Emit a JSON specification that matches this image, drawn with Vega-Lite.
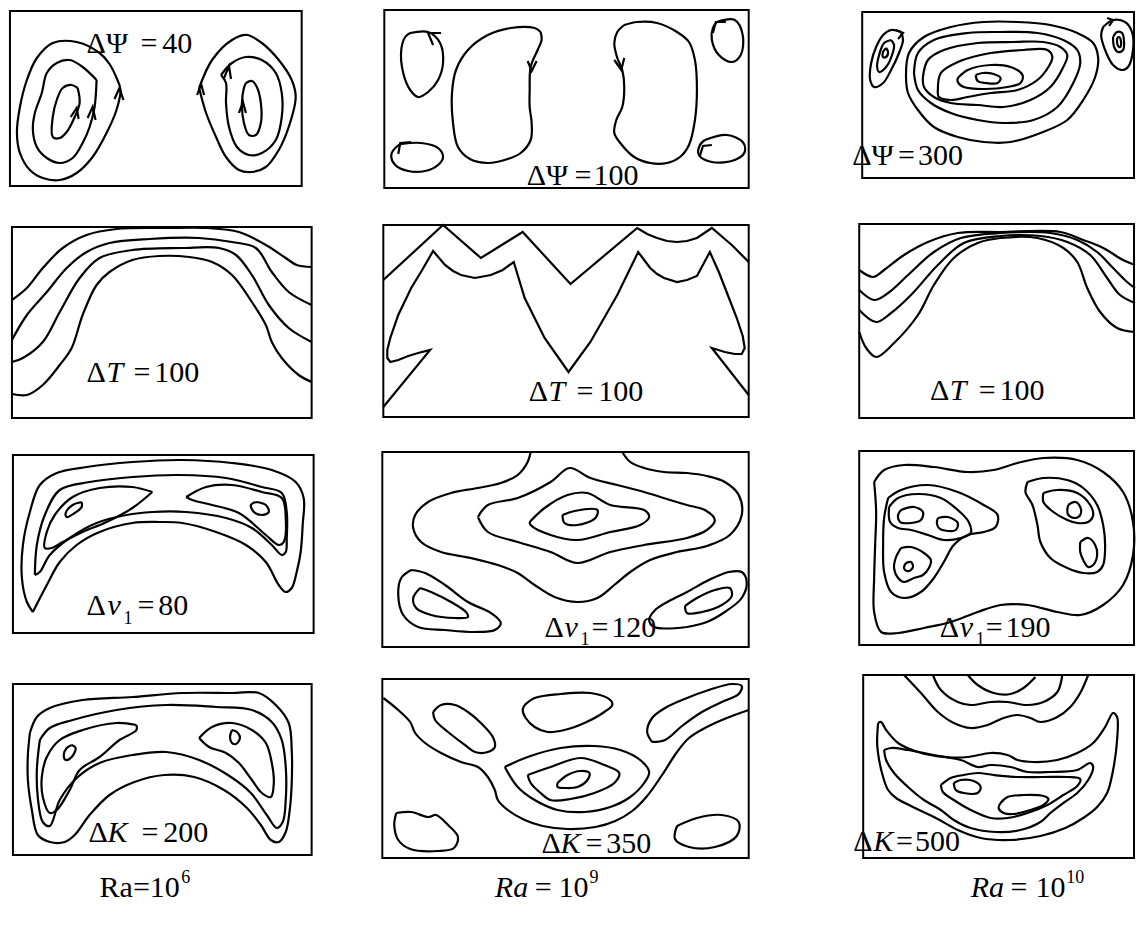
{
  "$schema": "https://vega.github.io/schema/vega-lite/v6.json",
  "width": 1140,
  "height": 930,
  "padding": 0,
  "autosize": {"type": "fit", "contains": "padding"},
  "config": {"view": {"stroke": null}, "background": "white"},
  "datasets": {
    "boxes": [
      {"panel": "psi6", "x0": 10, "x1": 303, "y0": 11, "y1": 186},
      {"panel": "psi9", "x0": 386, "x1": 752, "y0": 10, "y1": 188},
      {"panel": "psi10", "x0": 866, "x1": 1139, "y0": 12, "y1": 178},
      {"panel": "t6", "x0": 12, "x1": 313, "y0": 227, "y1": 418},
      {"panel": "t9", "x0": 385, "x1": 752, "y0": 225, "y1": 417},
      {"panel": "t10", "x0": 863, "x1": 1139, "y0": 224, "y1": 418},
      {"panel": "nu6", "x0": 13, "x1": 315, "y0": 455, "y1": 633},
      {"panel": "nu9", "x0": 384, "x1": 752, "y0": 452, "y1": 647},
      {"panel": "nu10", "x0": 863, "x1": 1139, "y0": 451, "y1": 645},
      {"panel": "k6", "x0": 13, "x1": 313, "y0": 684, "y1": 855},
      {"panel": "k9", "x0": 384, "x1": 752, "y0": 679, "y1": 858},
      {"panel": "k10", "x0": 867, "x1": 1139, "y0": 675, "y1": 858}
    ],
    "curves": [
      {"c":"a1","x":118,"y":80},{"c":"a1","x":110,"y":64},{"c":"a1","x":100,"y":53},{"c":"a1","x":77,"y":42},{"c":"a1","x":53,"y":43},{"c":"a1","x":37,"y":58},{"c":"a1","x":27,"y":80},{"c":"a1","x":20,"y":107},{"c":"a1","x":17,"y":133},{"c":"a1","x":20,"y":153},{"c":"a1","x":30,"y":170},{"c":"a1","x":43,"y":178},{"c":"a1","x":60,"y":180},{"c":"a1","x":77,"y":173},{"c":"a1","x":93,"y":157},{"c":"a1","x":107,"y":133},{"c":"a1","x":117,"y":110},{"c":"a1","x":121,"y":90},{"c":"a1","x":118,"y":80},
      {"c":"a2","x":97,"y":80},{"c":"a2","x":83,"y":67},{"c":"a2","x":70,"y":60},{"c":"a2","x":57,"y":63},{"c":"a2","x":47,"y":73},{"c":"a2","x":42,"y":93},{"c":"a2","x":35,"y":113},{"c":"a2","x":33,"y":130},{"c":"a2","x":37,"y":147},{"c":"a2","x":47,"y":158},{"c":"a2","x":60,"y":163},{"c":"a2","x":73,"y":158},{"c":"a2","x":83,"y":143},{"c":"a2","x":90,"y":127},{"c":"a2","x":95,"y":107},{"c":"a2","x":97,"y":80},
      {"c":"a3","x":78,"y":88},{"c":"a3","x":72,"y":85},{"c":"a3","x":63,"y":88},{"c":"a3","x":57,"y":100},{"c":"a3","x":53,"y":117},{"c":"a3","x":53,"y":137},{"c":"a3","x":60,"y":138},{"c":"a3","x":67,"y":132},{"c":"a3","x":75,"y":117},{"c":"a3","x":80,"y":103},{"c":"a3","x":78,"y":88},
      {"c":"a4","x":200,"y":88},{"c":"a4","x":213,"y":60},{"c":"a4","x":233,"y":40},{"c":"a4","x":248,"y":35},{"c":"a4","x":263,"y":43},{"c":"a4","x":280,"y":60},{"c":"a4","x":293,"y":80},{"c":"a4","x":297,"y":97},{"c":"a4","x":290,"y":127},{"c":"a4","x":280,"y":150},{"c":"a4","x":267,"y":167},{"c":"a4","x":253,"y":172},{"c":"a4","x":240,"y":170},{"c":"a4","x":227,"y":157},{"c":"a4","x":217,"y":137},{"c":"a4","x":207,"y":113},{"c":"a4","x":200,"y":88},
      {"c":"a5","x":222,"y":75},{"c":"a5","x":233,"y":63},{"c":"a5","x":247,"y":57},{"c":"a5","x":263,"y":60},{"c":"a5","x":277,"y":73},{"c":"a5","x":283,"y":93},{"c":"a5","x":283,"y":117},{"c":"a5","x":277,"y":140},{"c":"a5","x":263,"y":153},{"c":"a5","x":250,"y":155},{"c":"a5","x":238,"y":147},{"c":"a5","x":230,"y":127},{"c":"a5","x":227,"y":103},{"c":"a5","x":227,"y":83},{"c":"a5","x":222,"y":75},
      {"c":"a6","x":247,"y":83},{"c":"a6","x":253,"y":81},{"c":"a6","x":258,"y":87},{"c":"a6","x":262,"y":103},{"c":"a6","x":262,"y":123},{"c":"a6","x":257,"y":135},{"c":"a6","x":250,"y":135},{"c":"a6","x":245,"y":123},{"c":"a6","x":243,"y":103},{"c":"a6","x":245,"y":88},{"c":"a6","x":247,"y":83},

      {"c":"b1","x":412,"y":33},{"c":"b1","x":430,"y":32},{"c":"b1","x":442,"y":43},{"c":"b1","x":445,"y":63},{"c":"b1","x":440,"y":80},{"c":"b1","x":430,"y":92},{"c":"b1","x":420,"y":97},{"c":"b1","x":412,"y":90},{"c":"b1","x":405,"y":73},{"c":"b1","x":403,"y":50},{"c":"b1","x":407,"y":37},{"c":"b1","x":412,"y":33},
      {"c":"b2","x":403,"y":144},{"c":"b2","x":423,"y":143},{"c":"b2","x":440,"y":148},{"c":"b2","x":445,"y":157},{"c":"b2","x":440,"y":165},{"c":"b2","x":427,"y":171},{"c":"b2","x":410,"y":171},{"c":"b2","x":397,"y":165},{"c":"b2","x":393,"y":155},{"c":"b2","x":398,"y":147},{"c":"b2","x":403,"y":144},
      {"c":"b3","x":543,"y":32},{"c":"b3","x":537,"y":28},{"c":"b3","x":513,"y":28},{"c":"b3","x":490,"y":35},{"c":"b3","x":470,"y":50},{"c":"b3","x":458,"y":70},{"c":"b3","x":454,"y":93},{"c":"b3","x":455,"y":123},{"c":"b3","x":460,"y":147},{"c":"b3","x":472,"y":159},{"c":"b3","x":490,"y":163},{"c":"b3","x":510,"y":159},{"c":"b3","x":523,"y":153},{"c":"b3","x":533,"y":140},{"c":"b3","x":534,"y":123},{"c":"b3","x":532,"y":107},{"c":"b3","x":532,"y":90},{"c":"b3","x":533,"y":67},{"c":"b3","x":540,"y":50},{"c":"b3","x":544,"y":40},{"c":"b3","x":543,"y":32},
      {"c":"b4","x":627,"y":25},{"c":"b4","x":640,"y":22},{"c":"b4","x":660,"y":23},{"c":"b4","x":680,"y":32},{"c":"b4","x":692,"y":42},{"c":"b4","x":698,"y":60},{"c":"b4","x":700,"y":90},{"c":"b4","x":698,"y":120},{"c":"b4","x":692,"y":145},{"c":"b4","x":683,"y":157},{"c":"b4","x":670,"y":163},{"c":"b4","x":653,"y":163},{"c":"b4","x":637,"y":157},{"c":"b4","x":623,"y":143},{"c":"b4","x":617,"y":133},{"c":"b4","x":619,"y":120},{"c":"b4","x":625,"y":107},{"c":"b4","x":627,"y":87},{"c":"b4","x":625,"y":70},{"c":"b4","x":620,"y":58},{"c":"b4","x":617,"y":43},{"c":"b4","x":620,"y":32},{"c":"b4","x":627,"y":25},
      {"c":"b5","x":720,"y":22},{"c":"b5","x":738,"y":20},{"c":"b5","x":746,"y":35},{"c":"b5","x":744,"y":55},{"c":"b5","x":735,"y":62},{"c":"b5","x":722,"y":55},{"c":"b5","x":715,"y":40},{"c":"b5","x":716,"y":28},{"c":"b5","x":720,"y":22},
      {"c":"b6","x":708,"y":140},{"c":"b6","x":730,"y":135},{"c":"b6","x":746,"y":142},{"c":"b6","x":748,"y":152},{"c":"b6","x":738,"y":160},{"c":"b6","x":715,"y":162},{"c":"b6","x":702,"y":155},{"c":"b6","x":703,"y":145},{"c":"b6","x":708,"y":140},

      {"c":"c1","x":905,"y":32},{"c":"c1","x":895,"y":30},{"c":"c1","x":887,"y":35},{"c":"c1","x":880,"y":47},{"c":"c1","x":875,"y":63},{"c":"c1","x":874,"y":80},{"c":"c1","x":878,"y":87},{"c":"c1","x":887,"y":83},{"c":"c1","x":895,"y":70},{"c":"c1","x":903,"y":53},{"c":"c1","x":907,"y":40},{"c":"c1","x":905,"y":32},
      {"c":"c2","x":895,"y":40},{"c":"c2","x":888,"y":43},{"c":"c2","x":883,"y":55},{"c":"c2","x":881,"y":67},{"c":"c2","x":883,"y":72},{"c":"c2","x":890,"y":67},{"c":"c2","x":896,"y":55},{"c":"c2","x":898,"y":45},{"c":"c2","x":895,"y":40},
      {"c":"c3","x":890,"y":48},{"c":"c3","x":887,"y":52},{"c":"c3","x":887,"y":57},{"c":"c3","x":890,"y":57},{"c":"c3","x":892,"y":52},{"c":"c3","x":890,"y":48},
      {"c":"c4","x":910,"y":77},{"c":"c4","x":913,"y":53},{"c":"c4","x":928,"y":37},{"c":"c4","x":955,"y":27},{"c":"c4","x":988,"y":22},{"c":"c4","x":1022,"y":22},{"c":"c4","x":1055,"y":25},{"c":"c4","x":1082,"y":33},{"c":"c4","x":1098,"y":43},{"c":"c4","x":1103,"y":58},{"c":"c4","x":1100,"y":77},{"c":"c4","x":1088,"y":100},{"c":"c4","x":1072,"y":120},{"c":"c4","x":1045,"y":133},{"c":"c4","x":1015,"y":142},{"c":"c4","x":988,"y":142},{"c":"c4","x":962,"y":137},{"c":"c4","x":938,"y":127},{"c":"c4","x":922,"y":110},{"c":"c4","x":912,"y":93},{"c":"c4","x":910,"y":77},
      {"c":"c5","x":918,"y":73},{"c":"c5","x":922,"y":53},{"c":"c5","x":938,"y":40},{"c":"c5","x":972,"y":33},{"c":"c5","x":1005,"y":32},{"c":"c5","x":1042,"y":33},{"c":"c5","x":1068,"y":40},{"c":"c5","x":1082,"y":50},{"c":"c5","x":1085,"y":63},{"c":"c5","x":1078,"y":83},{"c":"c5","x":1062,"y":107},{"c":"c5","x":1038,"y":120},{"c":"c5","x":1008,"y":123},{"c":"c5","x":982,"y":120},{"c":"c5","x":955,"y":113},{"c":"c5","x":935,"y":103},{"c":"c5","x":922,"y":90},{"c":"c5","x":918,"y":73},
      {"c":"c6","x":927,"y":77},{"c":"c6","x":932,"y":60},{"c":"c6","x":948,"y":50},{"c":"c6","x":982,"y":43},{"c":"c6","x":1018,"y":42},{"c":"c6","x":1048,"y":42},{"c":"c6","x":1065,"y":47},{"c":"c6","x":1072,"y":55},{"c":"c6","x":1068,"y":67},{"c":"c6","x":1055,"y":87},{"c":"c6","x":1035,"y":100},{"c":"c6","x":1008,"y":107},{"c":"c6","x":982,"y":105},{"c":"c6","x":955,"y":103},{"c":"c6","x":938,"y":97},{"c":"c6","x":928,"y":87},{"c":"c6","x":927,"y":77},
      {"c":"c7","x":942,"y":90},{"c":"c7","x":945,"y":73},{"c":"c7","x":962,"y":62},{"c":"c7","x":995,"y":53},{"c":"c7","x":1028,"y":50},{"c":"c7","x":1052,"y":50},{"c":"c7","x":1057,"y":57},{"c":"c7","x":1053,"y":67},{"c":"c7","x":1042,"y":80},{"c":"c7","x":1022,"y":90},{"c":"c7","x":995,"y":93},{"c":"c7","x":972,"y":97},{"c":"c7","x":955,"y":100},{"c":"c7","x":943,"y":97},{"c":"c7","x":942,"y":90},
      {"c":"c8","x":962,"y":78},{"c":"c8","x":972,"y":70},{"c":"c8","x":995,"y":65},{"c":"c8","x":1015,"y":67},{"c":"c8","x":1027,"y":75},{"c":"c8","x":1025,"y":83},{"c":"c8","x":1012,"y":87},{"c":"c8","x":988,"y":89},{"c":"c8","x":968,"y":87},{"c":"c8","x":962,"y":82},{"c":"c8","x":962,"y":78},
      {"c":"c9","x":980,"y":75},{"c":"c9","x":987,"y":73},{"c":"c9","x":998,"y":74},{"c":"c9","x":1005,"y":78},{"c":"c9","x":1002,"y":83},{"c":"c9","x":990,"y":83},{"c":"c9","x":982,"y":81},{"c":"c9","x":980,"y":75},
      {"c":"c10","x":1108,"y":27},{"c":"c10","x":1118,"y":20},{"c":"c10","x":1130,"y":22},{"c":"c10","x":1137,"y":32},{"c":"c10","x":1138,"y":50},{"c":"c10","x":1133,"y":67},{"c":"c10","x":1127,"y":70},{"c":"c10","x":1118,"y":65},{"c":"c10","x":1110,"y":50},{"c":"c10","x":1106,"y":35},{"c":"c10","x":1108,"y":27},
      {"c":"c11","x":1118,"y":37},{"c":"c11","x":1122,"y":32},{"c":"c11","x":1127,"y":33},{"c":"c11","x":1129,"y":42},{"c":"c11","x":1128,"y":50},{"c":"c11","x":1123,"y":52},{"c":"c11","x":1119,"y":47},{"c":"c11","x":1118,"y":40},{"c":"c11","x":1118,"y":37},
      {"c":"c12","x":1122,"y":38},{"c":"c12","x":1124,"y":37},{"c":"c12","x":1126,"y":42},{"c":"c12","x":1125,"y":47},{"c":"c12","x":1123,"y":46},{"c":"c12","x":1122,"y":42},{"c":"c12","x":1122,"y":38},

      {"c":"d1","x":12,"y":300},{"c":"d1","x":27,"y":288},{"c":"d1","x":43,"y":268},{"c":"d1","x":63,"y":248},{"c":"d1","x":87,"y":235},{"c":"d1","x":117,"y":229},{"c":"d1","x":167,"y":228},{"c":"d1","x":207,"y":228},{"c":"d1","x":240,"y":232},{"c":"d1","x":267,"y":245},{"c":"d1","x":287,"y":258},{"c":"d1","x":298,"y":265},{"c":"d1","x":313,"y":267},
      {"c":"d2","x":12,"y":340},{"c":"d2","x":27,"y":315},{"c":"d2","x":47,"y":292},{"c":"d2","x":67,"y":268},{"c":"d2","x":87,"y":252},{"c":"d2","x":110,"y":243},{"c":"d2","x":150,"y":239},{"c":"d2","x":200,"y":238},{"c":"d2","x":233,"y":242},{"c":"d2","x":257,"y":248},{"c":"d2","x":273,"y":272},{"c":"d2","x":290,"y":292},{"c":"d2","x":313,"y":305},
      {"c":"d3","x":12,"y":362},{"c":"d3","x":23,"y":358},{"c":"d3","x":43,"y":342},{"c":"d3","x":60,"y":312},{"c":"d3","x":80,"y":278},{"c":"d3","x":100,"y":258},{"c":"d3","x":133,"y":250},{"c":"d3","x":183,"y":248},{"c":"d3","x":220,"y":248},{"c":"d3","x":237,"y":255},{"c":"d3","x":253,"y":275},{"c":"d3","x":270,"y":305},{"c":"d3","x":290,"y":328},{"c":"d3","x":313,"y":342},
      {"c":"d4","x":12,"y":394},{"c":"d4","x":27,"y":395},{"c":"d4","x":43,"y":385},{"c":"d4","x":60,"y":365},{"c":"d4","x":72,"y":348},{"c":"d4","x":83,"y":315},{"c":"d4","x":97,"y":285},{"c":"d4","x":110,"y":272},{"c":"d4","x":133,"y":260},{"c":"d4","x":160,"y":256},{"c":"d4","x":190,"y":257},{"c":"d4","x":213,"y":262},{"c":"d4","x":233,"y":275},{"c":"d4","x":253,"y":302},{"c":"d4","x":267,"y":325},{"c":"d4","x":273,"y":342},{"c":"d4","x":283,"y":358},{"c":"d4","x":300,"y":375},{"c":"d4","x":313,"y":382},

      {"c":"f1","x":863,"y":270},{"c":"f1","x":877,"y":277},{"c":"f1","x":888,"y":270},{"c":"f1","x":908,"y":255},{"c":"f1","x":932,"y":242},{"c":"f1","x":962,"y":233},{"c":"f1","x":1005,"y":232},{"c":"f1","x":1065,"y":232},{"c":"f1","x":1088,"y":240},{"c":"f1","x":1108,"y":248},{"c":"f1","x":1128,"y":260},{"c":"f1","x":1140,"y":265},
      {"c":"f2","x":863,"y":290},{"c":"f2","x":878,"y":300},{"c":"f2","x":892,"y":293},{"c":"f2","x":912,"y":275},{"c":"f2","x":938,"y":252},{"c":"f2","x":965,"y":238},{"c":"f2","x":1005,"y":233},{"c":"f2","x":1055,"y":233},{"c":"f2","x":1082,"y":240},{"c":"f2","x":1102,"y":252},{"c":"f2","x":1118,"y":268},{"c":"f2","x":1132,"y":282},{"c":"f2","x":1140,"y":288},
      {"c":"f3","x":863,"y":310},{"c":"f3","x":880,"y":322},{"c":"f3","x":895,"y":313},{"c":"f3","x":915,"y":295},{"c":"f3","x":942,"y":265},{"c":"f3","x":968,"y":243},{"c":"f3","x":1005,"y":236},{"c":"f3","x":1045,"y":236},{"c":"f3","x":1072,"y":242},{"c":"f3","x":1095,"y":255},{"c":"f3","x":1112,"y":278},{"c":"f3","x":1125,"y":295},{"c":"f3","x":1140,"y":303},
      {"c":"f4","x":863,"y":332},{"c":"f4","x":870,"y":348},{"c":"f4","x":880,"y":357},{"c":"f4","x":898,"y":343},{"c":"f4","x":922,"y":315},{"c":"f4","x":938,"y":285},{"c":"f4","x":958,"y":258},{"c":"f4","x":982,"y":243},{"c":"f4","x":1005,"y":238},{"c":"f4","x":1042,"y":238},{"c":"f4","x":1068,"y":248},{"c":"f4","x":1082,"y":262},{"c":"f4","x":1092,"y":288},{"c":"f4","x":1105,"y":312},{"c":"f4","x":1122,"y":328},{"c":"f4","x":1140,"y":332},

      {"c":"g1","x":33,"y":612},{"c":"g1","x":27,"y":602},{"c":"g1","x":22,"y":578},{"c":"g1","x":23,"y":545},{"c":"g1","x":30,"y":512},{"c":"g1","x":40,"y":485},{"c":"g1","x":57,"y":473},{"c":"g1","x":87,"y":467},{"c":"g1","x":133,"y":462},{"c":"g1","x":183,"y":460},{"c":"g1","x":233,"y":463},{"c":"g1","x":273,"y":470},{"c":"g1","x":297,"y":482},{"c":"g1","x":305,"y":498},{"c":"g1","x":304,"y":525},{"c":"g1","x":302,"y":552},{"c":"g1","x":298,"y":572},{"c":"g1","x":293,"y":588},{"c":"g1","x":287,"y":592},{"c":"g1","x":280,"y":585},{"c":"g1","x":267,"y":562},{"c":"g1","x":247,"y":545},{"c":"g1","x":217,"y":532},{"c":"g1","x":183,"y":523},{"c":"g1","x":160,"y":522},{"c":"g1","x":133,"y":523},{"c":"g1","x":100,"y":532},{"c":"g1","x":77,"y":545},{"c":"g1","x":60,"y":562},{"c":"g1","x":47,"y":585},{"c":"g1","x":33,"y":612},
      {"c":"g2","x":35,"y":575},{"c":"g2","x":37,"y":545},{"c":"g2","x":45,"y":515},{"c":"g2","x":60,"y":490},{"c":"g2","x":90,"y":482},{"c":"g2","x":133,"y":477},{"c":"g2","x":180,"y":475},{"c":"g2","x":227,"y":478},{"c":"g2","x":263,"y":487},{"c":"g2","x":283,"y":493},{"c":"g2","x":288,"y":512},{"c":"g2","x":288,"y":538},{"c":"g2","x":287,"y":552},{"c":"g2","x":283,"y":555},{"c":"g2","x":273,"y":545},{"c":"g2","x":253,"y":528},{"c":"g2","x":227,"y":518},{"c":"g2","x":187,"y":512},{"c":"g2","x":153,"y":512},{"c":"g2","x":127,"y":515},{"c":"g2","x":97,"y":523},{"c":"g2","x":70,"y":538},{"c":"g2","x":50,"y":555},{"c":"g2","x":40,"y":572},{"c":"g2","x":35,"y":575},
      {"c":"g3","x":153,"y":492},{"c":"g3","x":133,"y":487},{"c":"g3","x":100,"y":488},{"c":"g3","x":73,"y":497},{"c":"g3","x":55,"y":515},{"c":"g3","x":47,"y":532},{"c":"g3","x":45,"y":548},{"c":"g3","x":52,"y":548},{"c":"g3","x":63,"y":542},{"c":"g3","x":83,"y":532},{"c":"g3","x":107,"y":522},{"c":"g3","x":133,"y":508},{"c":"g3","x":153,"y":492},
      {"c":"g4","x":187,"y":497},{"c":"g4","x":207,"y":487},{"c":"g4","x":233,"y":485},{"c":"g4","x":263,"y":492},{"c":"g4","x":283,"y":498},{"c":"g4","x":287,"y":518},{"c":"g4","x":285,"y":542},{"c":"g4","x":280,"y":545},{"c":"g4","x":267,"y":535},{"c":"g4","x":240,"y":513},{"c":"g4","x":213,"y":505},{"c":"g4","x":193,"y":500},{"c":"g4","x":187,"y":497},
      {"c":"g5","x":82,"y":502},{"c":"g5","x":73,"y":505},{"c":"g5","x":66,"y":513},{"c":"g5","x":67,"y":517},{"c":"g5","x":75,"y":513},{"c":"g5","x":82,"y":507},{"c":"g5","x":82,"y":502},
      {"c":"g6","x":257,"y":502},{"c":"g6","x":267,"y":505},{"c":"g6","x":270,"y":512},{"c":"g6","x":263,"y":515},{"c":"g6","x":255,"y":512},{"c":"g6","x":252,"y":505},{"c":"g6","x":257,"y":502},

      {"c":"h1","x":533,"y":452},{"c":"h1","x":530,"y":462},{"c":"h1","x":520,"y":475},{"c":"h1","x":503,"y":483},{"c":"h1","x":480,"y":488},{"c":"h1","x":453,"y":493},{"c":"h1","x":430,"y":502},{"c":"h1","x":417,"y":515},{"c":"h1","x":415,"y":528},{"c":"h1","x":423,"y":542},{"c":"h1","x":443,"y":552},{"c":"h1","x":473,"y":558},{"c":"h1","x":500,"y":565},{"c":"h1","x":520,"y":573},{"c":"h1","x":537,"y":585},{"c":"h1","x":557,"y":597},{"c":"h1","x":580,"y":602},{"c":"h1","x":600,"y":598},{"c":"h1","x":617,"y":585},{"c":"h1","x":633,"y":572},{"c":"h1","x":653,"y":560},{"c":"h1","x":680,"y":552},{"c":"h1","x":710,"y":546},{"c":"h1","x":733,"y":535},{"c":"h1","x":745,"y":515},{"c":"h1","x":742,"y":495},{"c":"h1","x":728,"y":482},{"c":"h1","x":710,"y":476},{"c":"h1","x":690,"y":473},{"c":"h1","x":667,"y":472},{"c":"h1","x":647,"y":468},{"c":"h1","x":633,"y":462},{"c":"h1","x":625,"y":452},
      {"c":"h2","x":480,"y":517},{"c":"h2","x":490,"y":505},{"c":"h2","x":520,"y":498},{"c":"h2","x":553,"y":482},{"c":"h2","x":572,"y":468},{"c":"h2","x":593,"y":478},{"c":"h2","x":620,"y":485},{"c":"h2","x":647,"y":492},{"c":"h2","x":673,"y":500},{"c":"h2","x":690,"y":505},{"c":"h2","x":708,"y":510},{"c":"h2","x":718,"y":520},{"c":"h2","x":710,"y":530},{"c":"h2","x":690,"y":538},{"c":"h2","x":647,"y":545},{"c":"h2","x":613,"y":552},{"c":"h2","x":580,"y":563},{"c":"h2","x":553,"y":552},{"c":"h2","x":520,"y":542},{"c":"h2","x":490,"y":532},{"c":"h2","x":480,"y":517},
      {"c":"h3","x":532,"y":522},{"c":"h3","x":547,"y":508},{"c":"h3","x":570,"y":495},{"c":"h3","x":590,"y":493},{"c":"h3","x":613,"y":505},{"c":"h3","x":647,"y":510},{"c":"h3","x":652,"y":517},{"c":"h3","x":643,"y":525},{"c":"h3","x":613,"y":532},{"c":"h3","x":580,"y":540},{"c":"h3","x":553,"y":535},{"c":"h3","x":533,"y":525},{"c":"h3","x":532,"y":522},
      {"c":"h4","x":565,"y":515},{"c":"h4","x":577,"y":511},{"c":"h4","x":600,"y":510},{"c":"h4","x":598,"y":518},{"c":"h4","x":580,"y":525},{"c":"h4","x":567,"y":523},{"c":"h4","x":565,"y":515},
      {"c":"h5","x":413,"y":570},{"c":"h5","x":403,"y":578},{"c":"h5","x":400,"y":595},{"c":"h5","x":405,"y":615},{"c":"h5","x":420,"y":627},{"c":"h5","x":447,"y":630},{"c":"h5","x":477,"y":632},{"c":"h5","x":497,"y":630},{"c":"h5","x":503,"y":623},{"c":"h5","x":493,"y":613},{"c":"h5","x":470,"y":602},{"c":"h5","x":447,"y":585},{"c":"h5","x":427,"y":573},{"c":"h5","x":413,"y":570},
      {"c":"h6","x":422,"y":588},{"c":"h6","x":415,"y":598},{"c":"h6","x":418,"y":608},{"c":"h6","x":433,"y":615},{"c":"h6","x":457,"y":618},{"c":"h6","x":470,"y":617},{"c":"h6","x":468,"y":612},{"c":"h6","x":453,"y":602},{"c":"h6","x":433,"y":592},{"c":"h6","x":422,"y":588},
      {"c":"h7","x":690,"y":627},{"c":"h7","x":657,"y":627},{"c":"h7","x":652,"y":620},{"c":"h7","x":658,"y":610},{"c":"h7","x":672,"y":601},{"c":"h7","x":690,"y":592},{"c":"h7","x":712,"y":580},{"c":"h7","x":732,"y":572},{"c":"h7","x":745,"y":572},{"c":"h7","x":750,"y":582},{"c":"h7","x":745,"y":598},{"c":"h7","x":728,"y":612},{"c":"h7","x":710,"y":622},{"c":"h7","x":690,"y":627},
      {"c":"h8","x":688,"y":606},{"c":"h8","x":700,"y":598},{"c":"h8","x":718,"y":590},{"c":"h8","x":733,"y":588},{"c":"h8","x":735,"y":596},{"c":"h8","x":725,"y":605},{"c":"h8","x":705,"y":612},{"c":"h8","x":690,"y":613},{"c":"h8","x":688,"y":606},

      {"c":"i1","x":878,"y":482},{"c":"i1","x":888,"y":470},{"c":"i1","x":908,"y":465},{"c":"i1","x":938,"y":467},{"c":"i1","x":972,"y":472},{"c":"i1","x":998,"y":470},{"c":"i1","x":1022,"y":463},{"c":"i1","x":1048,"y":458},{"c":"i1","x":1082,"y":460},{"c":"i1","x":1108,"y":472},{"c":"i1","x":1128,"y":492},{"c":"i1","x":1138,"y":522},{"c":"i1","x":1138,"y":555},{"c":"i1","x":1128,"y":585},{"c":"i1","x":1108,"y":605},{"c":"i1","x":1085,"y":615},{"c":"i1","x":1062,"y":612},{"c":"i1","x":1032,"y":605},{"c":"i1","x":1005,"y":605},{"c":"i1","x":982,"y":612},{"c":"i1","x":955,"y":622},{"c":"i1","x":928,"y":628},{"c":"i1","x":902,"y":633},{"c":"i1","x":885,"y":632},{"c":"i1","x":878,"y":612},{"c":"i1","x":878,"y":578},{"c":"i1","x":879,"y":545},{"c":"i1","x":880,"y":512},{"c":"i1","x":878,"y":482},
      {"c":"i2","x":892,"y":498},{"c":"i2","x":905,"y":490},{"c":"i2","x":932,"y":485},{"c":"i2","x":962,"y":492},{"c":"i2","x":988,"y":505},{"c":"i2","x":1002,"y":515},{"c":"i2","x":1000,"y":527},{"c":"i2","x":988,"y":532},{"c":"i2","x":972,"y":535},{"c":"i2","x":958,"y":545},{"c":"i2","x":948,"y":562},{"c":"i2","x":938,"y":578},{"c":"i2","x":925,"y":592},{"c":"i2","x":908,"y":598},{"c":"i2","x":895,"y":592},{"c":"i2","x":888,"y":572},{"c":"i2","x":887,"y":545},{"c":"i2","x":888,"y":518},{"c":"i2","x":892,"y":498},
      {"c":"i3","x":893,"y":507},{"c":"i3","x":902,"y":498},{"c":"i3","x":922,"y":494},{"c":"i3","x":945,"y":498},{"c":"i3","x":962,"y":510},{"c":"i3","x":973,"y":522},{"c":"i3","x":975,"y":533},{"c":"i3","x":965,"y":538},{"c":"i3","x":948,"y":540},{"c":"i3","x":932,"y":535},{"c":"i3","x":915,"y":530},{"c":"i3","x":902,"y":528},{"c":"i3","x":894,"y":522},{"c":"i3","x":893,"y":507},
      {"c":"i4","x":905,"y":510},{"c":"i4","x":918,"y":507},{"c":"i4","x":927,"y":512},{"c":"i4","x":925,"y":520},{"c":"i4","x":915,"y":523},{"c":"i4","x":904,"y":522},{"c":"i4","x":902,"y":515},{"c":"i4","x":905,"y":510},
      {"c":"i5","x":942,"y":518},{"c":"i5","x":952,"y":517},{"c":"i5","x":962,"y":523},{"c":"i5","x":960,"y":530},{"c":"i5","x":952,"y":531},{"c":"i5","x":943,"y":528},{"c":"i5","x":941,"y":523},{"c":"i5","x":942,"y":518},
      {"c":"i6","x":905,"y":548},{"c":"i6","x":915,"y":547},{"c":"i6","x":928,"y":553},{"c":"i6","x":935,"y":560},{"c":"i6","x":933,"y":568},{"c":"i6","x":927,"y":575},{"c":"i6","x":918,"y":578},{"c":"i6","x":908,"y":582},{"c":"i6","x":902,"y":578},{"c":"i6","x":898,"y":568},{"c":"i6","x":900,"y":557},{"c":"i6","x":905,"y":548},
      {"c":"i7","x":910,"y":563},{"c":"i7","x":915,"y":562},{"c":"i7","x":917,"y":567},{"c":"i7","x":913,"y":571},{"c":"i7","x":909,"y":570},{"c":"i7","x":908,"y":567},{"c":"i7","x":910,"y":563},
      {"c":"i8","x":1032,"y":482},{"c":"i8","x":1048,"y":478},{"c":"i8","x":1072,"y":480},{"c":"i8","x":1088,"y":488},{"c":"i8","x":1102,"y":505},{"c":"i8","x":1108,"y":525},{"c":"i8","x":1110,"y":545},{"c":"i8","x":1108,"y":565},{"c":"i8","x":1102,"y":572},{"c":"i8","x":1088,"y":573},{"c":"i8","x":1072,"y":568},{"c":"i8","x":1055,"y":558},{"c":"i8","x":1045,"y":542},{"c":"i8","x":1042,"y":525},{"c":"i8","x":1037,"y":505},{"c":"i8","x":1030,"y":492},{"c":"i8","x":1032,"y":482},
      {"c":"i9","x":1048,"y":493},{"c":"i9","x":1062,"y":490},{"c":"i9","x":1082,"y":493},{"c":"i9","x":1095,"y":505},{"c":"i9","x":1098,"y":515},{"c":"i9","x":1093,"y":522},{"c":"i9","x":1082,"y":523},{"c":"i9","x":1072,"y":520},{"c":"i9","x":1058,"y":512},{"c":"i9","x":1048,"y":502},{"c":"i9","x":1048,"y":493},
      {"c":"i10","x":1073,"y":505},{"c":"i10","x":1080,"y":502},{"c":"i10","x":1085,"y":507},{"c":"i10","x":1085,"y":515},{"c":"i10","x":1080,"y":518},{"c":"i10","x":1073,"y":515},{"c":"i10","x":1072,"y":510},{"c":"i10","x":1073,"y":505},
      {"c":"i11","x":1085,"y":542},{"c":"i11","x":1093,"y":538},{"c":"i11","x":1100,"y":545},{"c":"i11","x":1102,"y":555},{"c":"i11","x":1098,"y":565},{"c":"i11","x":1093,"y":567},{"c":"i11","x":1088,"y":560},{"c":"i11","x":1085,"y":552},{"c":"i11","x":1085,"y":542},

      {"c":"j1","x":30,"y":733},{"c":"j1","x":37,"y":717},{"c":"j1","x":50,"y":708},{"c":"j1","x":83,"y":700},{"c":"j1","x":133,"y":697},{"c":"j1","x":183,"y":693},{"c":"j1","x":233,"y":693},{"c":"j1","x":260,"y":693},{"c":"j1","x":277,"y":705},{"c":"j1","x":290,"y":723},{"c":"j1","x":293,"y":750},{"c":"j1","x":293,"y":783},{"c":"j1","x":291,"y":810},{"c":"j1","x":287,"y":832},{"c":"j1","x":280,"y":842},{"c":"j1","x":272,"y":840},{"c":"j1","x":262,"y":825},{"c":"j1","x":248,"y":808},{"c":"j1","x":225,"y":790},{"c":"j1","x":195,"y":777},{"c":"j1","x":165,"y":775},{"c":"j1","x":135,"y":782},{"c":"j1","x":110,"y":795},{"c":"j1","x":90,"y":815},{"c":"j1","x":75,"y":835},{"c":"j1","x":65,"y":842},{"c":"j1","x":50,"y":842},{"c":"j1","x":38,"y":835},{"c":"j1","x":32,"y":810},{"c":"j1","x":28,"y":780},{"c":"j1","x":28,"y":755},{"c":"j1","x":30,"y":733},
      {"c":"j2","x":40,"y":740},{"c":"j2","x":50,"y":728},{"c":"j2","x":73,"y":720},{"c":"j2","x":117,"y":710},{"c":"j2","x":167,"y":705},{"c":"j2","x":217,"y":707},{"c":"j2","x":253,"y":710},{"c":"j2","x":273,"y":722},{"c":"j2","x":283,"y":740},{"c":"j2","x":287,"y":767},{"c":"j2","x":287,"y":800},{"c":"j2","x":284,"y":822},{"c":"j2","x":278,"y":828},{"c":"j2","x":268,"y":815},{"c":"j2","x":252,"y":793},{"c":"j2","x":232,"y":777},{"c":"j2","x":200,"y":760},{"c":"j2","x":167,"y":752},{"c":"j2","x":133,"y":755},{"c":"j2","x":100,"y":763},{"c":"j2","x":77,"y":778},{"c":"j2","x":60,"y":800},{"c":"j2","x":50,"y":826},{"c":"j2","x":43,"y":822},{"c":"j2","x":38,"y":798},{"c":"j2","x":37,"y":770},{"c":"j2","x":40,"y":740},
      {"c":"j3","x":137,"y":725},{"c":"j3","x":117,"y":723},{"c":"j3","x":83,"y":730},{"c":"j3","x":60,"y":740},{"c":"j3","x":47,"y":757},{"c":"j3","x":42,"y":777},{"c":"j3","x":43,"y":797},{"c":"j3","x":50,"y":813},{"c":"j3","x":57,"y":810},{"c":"j3","x":70,"y":790},{"c":"j3","x":80,"y":770},{"c":"j3","x":100,"y":757},{"c":"j3","x":120,"y":740},{"c":"j3","x":137,"y":730},{"c":"j3","x":137,"y":725},
      {"c":"j4","x":200,"y":738},{"c":"j4","x":213,"y":727},{"c":"j4","x":233,"y":723},{"c":"j4","x":253,"y":730},{"c":"j4","x":267,"y":743},{"c":"j4","x":273,"y":763},{"c":"j4","x":275,"y":783},{"c":"j4","x":272,"y":797},{"c":"j4","x":263,"y":793},{"c":"j4","x":253,"y":780},{"c":"j4","x":240,"y":763},{"c":"j4","x":227,"y":753},{"c":"j4","x":210,"y":747},{"c":"j4","x":200,"y":738},
      {"c":"j5","x":72,"y":745},{"c":"j5","x":76,"y":748},{"c":"j5","x":72,"y":757},{"c":"j5","x":66,"y":760},{"c":"j5","x":64,"y":755},{"c":"j5","x":67,"y":748},{"c":"j5","x":72,"y":745},
      {"c":"j6","x":233,"y":730},{"c":"j6","x":238,"y":732},{"c":"j6","x":241,"y":738},{"c":"j6","x":237,"y":744},{"c":"j6","x":233,"y":743},{"c":"j6","x":231,"y":737},{"c":"j6","x":233,"y":730},

      {"c":"k1","x":385,"y":698},{"c":"k1","x":400,"y":710},{"c":"k1","x":412,"y":722},{"c":"k1","x":417,"y":733},{"c":"k1","x":427,"y":743},{"c":"k1","x":443,"y":753},{"c":"k1","x":463,"y":762},{"c":"k1","x":480,"y":767},{"c":"k1","x":490,"y":777},{"c":"k1","x":497,"y":790},{"c":"k1","x":500,"y":800},{"c":"k1","x":510,"y":810},{"c":"k1","x":527,"y":820},{"c":"k1","x":545,"y":826},{"c":"k1","x":570,"y":829},{"c":"k1","x":598,"y":827},{"c":"k1","x":618,"y":821},{"c":"k1","x":635,"y":811},{"c":"k1","x":650,"y":796},{"c":"k1","x":665,"y":775},{"c":"k1","x":680,"y":752},{"c":"k1","x":692,"y":738},{"c":"k1","x":710,"y":727},{"c":"k1","x":730,"y":718},{"c":"k1","x":752,"y":710},
      {"c":"k2","x":435,"y":712},{"c":"k2","x":443,"y":705},{"c":"k2","x":457,"y":705},{"c":"k2","x":470,"y":712},{"c":"k2","x":483,"y":723},{"c":"k2","x":495,"y":737},{"c":"k2","x":497,"y":747},{"c":"k2","x":490,"y":752},{"c":"k2","x":477,"y":752},{"c":"k2","x":467,"y":745},{"c":"k2","x":450,"y":732},{"c":"k2","x":437,"y":720},{"c":"k2","x":435,"y":712},
      {"c":"k3","x":527,"y":705},{"c":"k3","x":537,"y":698},{"c":"k3","x":563,"y":694},{"c":"k3","x":593,"y":693},{"c":"k3","x":613,"y":700},{"c":"k3","x":615,"y":705},{"c":"k3","x":607,"y":712},{"c":"k3","x":587,"y":723},{"c":"k3","x":567,"y":730},{"c":"k3","x":550,"y":732},{"c":"k3","x":537,"y":727},{"c":"k3","x":528,"y":718},{"c":"k3","x":525,"y":710},{"c":"k3","x":527,"y":705},
      {"c":"k4","x":655,"y":742},{"c":"k4","x":650,"y":732},{"c":"k4","x":655,"y":718},{"c":"k4","x":668,"y":708},{"c":"k4","x":690,"y":698},{"c":"k4","x":712,"y":690},{"c":"k4","x":735,"y":684},{"c":"k4","x":745,"y":686},{"c":"k4","x":742,"y":694},{"c":"k4","x":725,"y":702},{"c":"k4","x":705,"y":712},{"c":"k4","x":685,"y":726},{"c":"k4","x":668,"y":740},{"c":"k4","x":655,"y":742},
      {"c":"k5","x":507,"y":767},{"c":"k5","x":530,"y":757},{"c":"k5","x":563,"y":748},{"c":"k5","x":597,"y":746},{"c":"k5","x":623,"y":750},{"c":"k5","x":643,"y":760},{"c":"k5","x":652,"y":772},{"c":"k5","x":647,"y":783},{"c":"k5","x":633,"y":797},{"c":"k5","x":613,"y":807},{"c":"k5","x":587,"y":812},{"c":"k5","x":560,"y":810},{"c":"k5","x":537,"y":800},{"c":"k5","x":520,"y":787},{"c":"k5","x":507,"y":767},
      {"c":"k6","x":530,"y":775},{"c":"k6","x":553,"y":767},{"c":"k6","x":583,"y":758},{"c":"k6","x":607,"y":765},{"c":"k6","x":622,"y":773},{"c":"k6","x":617,"y":783},{"c":"k6","x":597,"y":793},{"c":"k6","x":573,"y":799},{"c":"k6","x":553,"y":800},{"c":"k6","x":543,"y":793},{"c":"k6","x":533,"y":783},{"c":"k6","x":530,"y":775},
      {"c":"k7","x":560,"y":783},{"c":"k7","x":570,"y":775},{"c":"k7","x":583,"y":771},{"c":"k7","x":592,"y":773},{"c":"k7","x":590,"y":780},{"c":"k7","x":580,"y":787},{"c":"k7","x":568,"y":788},{"c":"k7","x":560,"y":787},{"c":"k7","x":560,"y":783},
      {"c":"k8","x":398,"y":813},{"c":"k8","x":413,"y":812},{"c":"k8","x":430,"y":817},{"c":"k8","x":438,"y":815},{"c":"k8","x":450,"y":825},{"c":"k8","x":460,"y":837},{"c":"k8","x":456,"y":848},{"c":"k8","x":440,"y":851},{"c":"k8","x":412,"y":849},{"c":"k8","x":400,"y":840},{"c":"k8","x":396,"y":825},{"c":"k8","x":398,"y":813},
      {"c":"k9","x":680,"y":826},{"c":"k9","x":700,"y":818},{"c":"k9","x":725,"y":815},{"c":"k9","x":742,"y":822},{"c":"k9","x":740,"y":836},{"c":"k9","x":718,"y":847},{"c":"k9","x":692,"y":847},{"c":"k9","x":678,"y":839},{"c":"k9","x":680,"y":826},

      {"c":"m1","x":972,"y":675},{"c":"m1","x":982,"y":685},{"c":"m1","x":998,"y":693},{"c":"m1","x":1015,"y":694},{"c":"m1","x":1028,"y":688},{"c":"m1","x":1040,"y":677},
      {"c":"m2","x":937,"y":675},{"c":"m2","x":945,"y":690},{"c":"m2","x":962,"y":702},{"c":"m2","x":975,"y":705},{"c":"m2","x":995,"y":702},{"c":"m2","x":1012,"y":702},{"c":"m2","x":1032,"y":705},{"c":"m2","x":1048,"y":702},{"c":"m2","x":1062,"y":692},{"c":"m2","x":1067,"y":675},
      {"c":"m3","x":908,"y":675},{"c":"m3","x":925,"y":693},{"c":"m3","x":942,"y":712},{"c":"m3","x":958,"y":723},{"c":"m3","x":975,"y":728},{"c":"m3","x":992,"y":725},{"c":"m3","x":1008,"y":718},{"c":"m3","x":1022,"y":715},{"c":"m3","x":1035,"y":718},{"c":"m3","x":1045,"y":722},{"c":"m3","x":1062,"y":717},{"c":"m3","x":1075,"y":707},{"c":"m3","x":1085,"y":693},{"c":"m3","x":1093,"y":675},
      {"c":"m4","x":882,"y":723},{"c":"m4","x":885,"y":722},{"c":"m4","x":890,"y":730},{"c":"m4","x":902,"y":743},{"c":"m4","x":922,"y":752},{"c":"m4","x":948,"y":757},{"c":"m4","x":972,"y":757},{"c":"m4","x":995,"y":753},{"c":"m4","x":1012,"y":755},{"c":"m4","x":1022,"y":760},{"c":"m4","x":1038,"y":762},{"c":"m4","x":1062,"y":760},{"c":"m4","x":1082,"y":753},{"c":"m4","x":1098,"y":743},{"c":"m4","x":1110,"y":727},{"c":"m4","x":1118,"y":713},{"c":"m4","x":1122,"y":717},{"c":"m4","x":1122,"y":740},{"c":"m4","x":1118,"y":770},{"c":"m4","x":1112,"y":793},{"c":"m4","x":1102,"y":807},{"c":"m4","x":1088,"y":818},{"c":"m4","x":1070,"y":828},{"c":"m4","x":1045,"y":836},{"c":"m4","x":1015,"y":840},{"c":"m4","x":985,"y":838},{"c":"m4","x":962,"y":830},{"c":"m4","x":940,"y":818},{"c":"m4","x":915,"y":806},{"c":"m4","x":900,"y":798},{"c":"m4","x":892,"y":790},{"c":"m4","x":887,"y":777},{"c":"m4","x":883,"y":760},{"c":"m4","x":881,"y":743},{"c":"m4","x":882,"y":723},
      {"c":"m5","x":888,"y":750},{"c":"m5","x":895,"y":748},{"c":"m5","x":912,"y":750},{"c":"m5","x":938,"y":755},{"c":"m5","x":965,"y":760},{"c":"m5","x":982,"y":767},{"c":"m5","x":995,"y":765},{"c":"m5","x":1015,"y":767},{"c":"m5","x":1032,"y":772},{"c":"m5","x":1055,"y":772},{"c":"m5","x":1082,"y":770},{"c":"m5","x":1095,"y":763},{"c":"m5","x":1098,"y":767},{"c":"m5","x":1093,"y":780},{"c":"m5","x":1082,"y":793},{"c":"m5","x":1068,"y":803},{"c":"m5","x":1055,"y":813},{"c":"m5","x":1045,"y":822},{"c":"m5","x":1025,"y":830},{"c":"m5","x":1000,"y":832},{"c":"m5","x":975,"y":828},{"c":"m5","x":958,"y":820},{"c":"m5","x":945,"y":810},{"c":"m5","x":928,"y":800},{"c":"m5","x":912,"y":787},{"c":"m5","x":898,"y":773},{"c":"m5","x":890,"y":760},{"c":"m5","x":888,"y":750},
      {"c":"m6","x":945,"y":785},{"c":"m6","x":955,"y":778},{"c":"m6","x":968,"y":775},{"c":"m6","x":982,"y":773},{"c":"m6","x":998,"y":775},{"c":"m6","x":1022,"y":777},{"c":"m6","x":1048,"y":777},{"c":"m6","x":1072,"y":777},{"c":"m6","x":1085,"y":779},{"c":"m6","x":1082,"y":786},{"c":"m6","x":1068,"y":795},{"c":"m6","x":1052,"y":805},{"c":"m6","x":1032,"y":813},{"c":"m6","x":1012,"y":818},{"c":"m6","x":995,"y":818},{"c":"m6","x":975,"y":810},{"c":"m6","x":958,"y":800},{"c":"m6","x":947,"y":792},{"c":"m6","x":945,"y":785},
      {"c":"m7","x":958,"y":783},{"c":"m7","x":965,"y":780},{"c":"m7","x":978,"y":781},{"c":"m7","x":985,"y":787},{"c":"m7","x":982,"y":793},{"c":"m7","x":968,"y":793},{"c":"m7","x":960,"y":790},{"c":"m7","x":958,"y":783},
      {"c":"m8","x":1005,"y":803},{"c":"m8","x":1012,"y":797},{"c":"m8","x":1028,"y":795},{"c":"m8","x":1048,"y":796},{"c":"m8","x":1053,"y":799},{"c":"m8","x":1048,"y":805},{"c":"m8","x":1035,"y":810},{"c":"m8","x":1018,"y":814},{"c":"m8","x":1008,"y":813},{"c":"m8","x":1003,"y":808},{"c":"m8","x":1005,"y":803}
    ],
    "sharp": [
      {"c":"e1","x":385,"y":280},{"c":"e1","x":445,"y":225},{"c":"e1","x":483,"y":258},{"c":"e1","x":525,"y":232},{"c":"e1","x":573,"y":284},{"c":"e1","x":640,"y":228},{"c":"e1","x":650,"y":234},{"c":"e1","x":660,"y":238},{"c":"e1","x":670,"y":241},{"c":"e1","x":680,"y":242},{"c":"e1","x":690,"y":241},{"c":"e1","x":700,"y":238},{"c":"e1","x":715,"y":228},{"c":"e1","x":735,"y":245},{"c":"e1","x":752,"y":262},
      {"c":"e2","x":385,"y":407},{"c":"e2","x":432,"y":350},{"c":"e2","x":420,"y":353},{"c":"e2","x":410,"y":356},{"c":"e2","x":400,"y":360},{"c":"e2","x":392,"y":362},{"c":"e2","x":389,"y":358},{"c":"e2","x":389,"y":350},{"c":"e2","x":392,"y":338},{"c":"e2","x":400,"y":315},{"c":"e2","x":413,"y":288},{"c":"e2","x":424,"y":270},{"c":"e2","x":435,"y":251},{"c":"e2","x":441,"y":258},{"c":"e2","x":447,"y":265},{"c":"e2","x":455,"y":271},{"c":"e2","x":463,"y":275},{"c":"e2","x":477,"y":278},{"c":"e2","x":493,"y":275},{"c":"e2","x":505,"y":270},{"c":"e2","x":516,"y":262},{"c":"e2","x":527,"y":298},{"c":"e2","x":547,"y":338},{"c":"e2","x":571,"y":372},{"c":"e2","x":593,"y":342},{"c":"e2","x":620,"y":295},{"c":"e2","x":641,"y":252},{"c":"e2","x":647,"y":260},{"c":"e2","x":653,"y":268},{"c":"e2","x":660,"y":274},{"c":"e2","x":667,"y":278},{"c":"e2","x":680,"y":282},{"c":"e2","x":690,"y":280},{"c":"e2","x":700,"y":276},{"c":"e2","x":713,"y":252},{"c":"e2","x":722,"y":272},{"c":"e2","x":731,"y":295},{"c":"e2","x":740,"y":318},{"c":"e2","x":746,"y":336},{"c":"e2","x":748,"y":348},{"c":"e2","x":745,"y":354},{"c":"e2","x":738,"y":354},{"c":"e2","x":728,"y":352},{"c":"e2","x":715,"y":348},{"c":"e2","x":752,"y":395},
      {"c":"ar1","x":115,"y":99},{"c":"ar1","x":120,"y":88},{"c":"ar1","x":124,"y":100},
      {"c":"ar2","x":88,"y":118},{"c":"ar2","x":93,"y":107},{"c":"ar2","x":96,"y":120},
      {"c":"ar3","x":71,"y":117},{"c":"ar3","x":77,"y":108},{"c":"ar3","x":79,"y":119},
      {"c":"ar4","x":198,"y":95},{"c":"ar4","x":202,"y":84},{"c":"ar4","x":205,"y":95},
      {"c":"ar5","x":225,"y":78},{"c":"ar5","x":230,"y":66},{"c":"ar5","x":232,"y":79},
      {"c":"ar6","x":240,"y":113},{"c":"ar6","x":244,"y":102},{"c":"ar6","x":247,"y":113},
      {"c":"br1","x":443,"y":33},{"c":"br1","x":430,"y":33},{"c":"br1","x":435,"y":45},
      {"c":"br2","x":413,"y":142},{"c":"br2","x":402,"y":143},{"c":"br2","x":400,"y":154},
      {"c":"br3","x":530,"y":61},{"c":"br3","x":534,"y":71},{"c":"br3","x":539,"y":61},
      {"c":"br4","x":617,"y":60},{"c":"br4","x":624,"y":70},{"c":"br4","x":627,"y":58},
      {"c":"br5","x":716,"y":33},{"c":"br5","x":719,"y":22},{"c":"br5","x":729,"y":22},
      {"c":"br6","x":703,"y":156},{"c":"br6","x":706,"y":146},{"c":"br6","x":715,"y":145},
      {"c":"cr1","x":900,"y":30},{"c":"cr1","x":907,"y":33},{"c":"cr1","x":902,"y":39},
      {"c":"cr2","x":1112,"y":18},{"c":"cr2","x":1118,"y":20},{"c":"cr2","x":1114,"y":26}
    ],
    "roman": [
      {"t":"ΔΨ","x":87,"y":53},{"t":"=","x":141,"y":53},{"t":"40","x":163,"y":53},
      {"t":"ΔΨ","x":529,"y":185},{"t":"=","x":577,"y":185},{"t":"100","x":596,"y":185},
      {"t":"ΔΨ","x":856,"y":165},{"t":"=","x":902,"y":165},{"t":"300","x":922,"y":165},
      {"t":"Δ","x":87,"y":382},{"t":"=","x":134,"y":382},{"t":"100","x":155,"y":382},
      {"t":"Δ","x":531,"y":401},{"t":"=","x":579,"y":401},{"t":"100","x":601,"y":401},
      {"t":"Δ","x":934,"y":400},{"t":"=","x":983,"y":400},{"t":"100","x":1004,"y":400},
      {"t":"Δ","x":87,"y":615},{"t":"=","x":138,"y":615},{"t":"80","x":159,"y":615},
      {"t":"Δ","x":547,"y":637},{"t":"=","x":594,"y":637},{"t":"120","x":614,"y":637},
      {"t":"Δ","x":944,"y":637},{"t":"=","x":990,"y":637},{"t":"190","x":1010,"y":637},
      {"t":"Δ","x":89,"y":842},{"t":"=","x":142,"y":842},{"t":"200","x":164,"y":842},
      {"t":"Δ","x":544,"y":853},{"t":"=","x":588,"y":853},{"t":"350","x":609,"y":853},
      {"t":"Δ","x":857,"y":851},{"t":"=","x":900,"y":851},{"t":"500","x":919,"y":851},
      {"t":"Ra=10","x":100,"y":897},
      {"t":"=","x":537,"y":897},{"t":"10","x":561,"y":897},
      {"t":"=","x":1015,"y":897},{"t":"10","x":1040,"y":897}
    ],
    "italic": [
      {"t":"T","x":107,"y":382},{"t":"T","x":551,"y":401},{"t":"T","x":954,"y":400},
      {"t":"ν","x":108,"y":615},{"t":"ν","x":567,"y":637},{"t":"ν","x":964,"y":637},
      {"t":"K","x":108,"y":842},{"t":"K","x":563,"y":853},{"t":"K","x":877,"y":851},
      {"t":"Ra","x":497,"y":897},{"t":"Ra","x":975,"y":897}
    ],
    "small": [
      {"t":"1","x":124,"y":624},{"t":"1","x":583,"y":645},{"t":"1","x":980,"y":645},
      {"t":"6","x":182,"y":883},{"t":"9","x":592,"y":883},{"t":"10","x":1071,"y":883}
    ]
  },
  "encoding": {
    "x": {"field": "x", "type": "quantitative", "axis": null, "scale": {"domain": [0, 1140], "nice": false, "zero": false}},
    "y": {"field": "y", "type": "quantitative", "axis": null, "scale": {"domain": [0, 930], "nice": false, "zero": false, "reverse": true}}
  },
  "layer": [
    {
      "data": {"name": "boxes"},
      "mark": {"type": "rect", "filled": false, "stroke": "black", "strokeWidth": 2},
      "encoding": {
        "x": {"field": "x0", "type": "quantitative"},
        "x2": {"field": "x1"},
        "y": {"field": "y0", "type": "quantitative"},
        "y2": {"field": "y1"}
      }
    },
    {
      "data": {"name": "curves"},
      "mark": {"type": "line", "interpolate": "catmull-rom", "stroke": "black", "strokeWidth": 2.2},
      "encoding": {"detail": {"field": "c"}, "order": {"value": null}}
    },
    {
      "data": {"name": "sharp"},
      "mark": {"type": "line", "interpolate": "linear", "stroke": "black", "strokeWidth": 2.2, "strokeJoin": "miter"},
      "encoding": {"detail": {"field": "c"}, "order": {"value": null}}
    },
    {
      "data": {"name": "roman"},
      "mark": {"type": "text", "align": "left", "baseline": "alphabetic", "font": "Liberation Serif", "fontSize": 30, "color": "black"},
      "encoding": {"text": {"field": "t"}}
    },
    {
      "data": {"name": "italic"},
      "mark": {"type": "text", "align": "left", "baseline": "alphabetic", "font": "Liberation Serif", "fontSize": 30, "fontStyle": "italic", "color": "black"},
      "encoding": {"text": {"field": "t"}}
    },
    {
      "data": {"name": "small"},
      "mark": {"type": "text", "align": "left", "baseline": "alphabetic", "font": "Liberation Serif", "fontSize": 18, "color": "black"},
      "encoding": {"text": {"field": "t"}}
    }
  ]
}
